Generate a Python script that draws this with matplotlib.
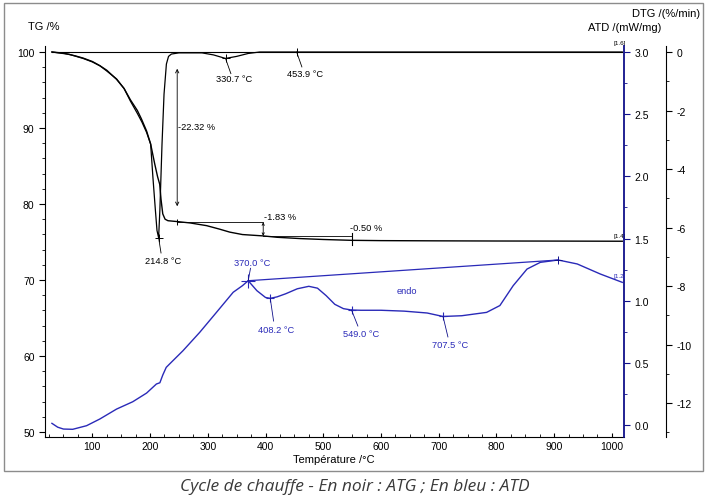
"""TG / DTG / ATD heating cycle - three stacked y scales on one temperature axis."""
import matplotlib
matplotlib.use("Agg")
import matplotlib.pyplot as plt
from matplotlib.patches import Rectangle
from matplotlib.ticker import MultipleLocator

plt.rcParams["font.family"] = ["Liberation Sans", "DejaVu Sans"]
plt.rcParams["axes.unicode_minus"] = False

BLUE = "#2a2ab8"
SPINE_BLUE = "#10108a"

# TG (black) - mass %
tg_t = [30, 50, 70, 84, 100, 113, 125, 142, 155, 166, 178, 185, 194, 201, 208,
        213, 216.7, 219, 222, 226, 231, 248, 270, 298, 320, 338, 360, 396,
        420, 460, 500, 549, 600, 700, 800, 900, 1018]
tg_v = [100, 99.85, 99.5, 99.2, 98.75, 98.2, 97.6, 96.4, 95.2, 93.7, 92.3,
        91.2, 89.6, 87.9, 85.3, 83.6, 82.6, 80.6, 78.7, 78.0, 77.8, 77.68,
        77.5, 77.15, 76.7, 76.3, 75.98, 75.8, 75.62, 75.45, 75.33, 75.22,
        75.18, 75.15, 75.13, 75.12, 75.1]

# DTG (black) - %/min
dtg_t = [30, 60, 84, 100, 113, 125, 142, 155, 166, 178, 186, 194, 201, 205,
         209.2, 212, 214.8, 217, 220.7, 224.2, 228.3, 232, 237, 250, 290, 310,
         330.7, 350, 370, 390, 453.9, 1018]
dtg_v = [0, -0.08, -0.22, -0.34, -0.47, -0.65, -0.92, -1.25, -1.68, -2.1, -2.4,
         -2.75, -3.15, -4.3, -5.4, -6.1, -6.35, -5.4, -3.15, -1.44, -0.41,
         -0.15, -0.07, -0.03, -0.03, -0.1, -0.22, -0.15, -0.05, 0, 0, 0]

# ATD (blue) - mW/mg
atd_t = [30, 40, 50, 66, 90, 113, 142, 170, 194, 211, 217, 222, 228, 234, 257,
         286, 315, 344, 360, 370, 385, 400, 408.2, 420, 435, 455, 475, 490, 505,
         520, 535, 549, 565, 600, 640, 680, 707.5, 740, 783, 806, 829, 853, 876,
         907, 940, 980, 1018]
atd_v = [0.011, -0.02, -0.035, -0.037, -0.008, 0.046, 0.126, 0.185, 0.255,
         0.328, 0.338, 0.40, 0.462, 0.49, 0.596, 0.744, 0.905, 1.067, 1.12,
         1.16, 1.08, 1.025, 1.018, 1.03, 1.055, 1.095, 1.115, 1.10, 1.04, 0.97,
         0.935, 0.924, 0.922, 0.922, 0.915, 0.90, 0.872, 0.878, 0.905, 0.96,
         1.12, 1.254, 1.308, 1.327, 1.295, 1.214, 1.147]

atd_peaks = [370.0, 408.2, 549.0, 707.5]
atd_peak_v = [1.16, 1.018, 0.924, 0.872]
atd_peak_lbl = ["370.0 °C", "408.2 °C", "549.0 °C", "707.5 °C"]
dtg_peaks = [214.8, 330.7, 453.9]
dtg_peak_v = [-6.35, -0.22, 0.0]
dtg_peak_lbl = ["214.8 °C", "330.7 °C", "453.9 °C"]
steps_lbl = ["-22.32 %", "-1.83 %", "-0.50 %"]

W, H = 711, 502
fig = plt.figure(figsize=(W / 100, H / 100), dpi=100)
ax = fig.add_axes([45 / W, 1 - 438 / H, 579 / W, 391 / H])
ax_atd = ax.twinx()
ax_dtg = ax.twinx()

ax.set_xlim(18, 1021)
ax.set_ylim(49.34, 100.79)
ax_atd.set_ylim(-0.099, 3.051)
ax_dtg.set_ylim(-13.16, 0.205)

for a in (ax, ax_atd, ax_dtg):
    a.patch.set_visible(False)
    for s in ("top", "left", "right", "bottom"):
        a.spines[s].set_visible(False)
ax.spines["left"].set_visible(True)
ax.spines["bottom"].set_visible(True)
ax_atd.spines["right"].set_visible(True)
ax_atd.spines["right"].set_color(SPINE_BLUE)
ax_atd.spines["right"].set_linewidth(1.3)
ax_dtg.spines["right"].set_visible(True)
ax_dtg.spines["right"].set_position(("axes", 1.0725))

ax.xaxis.set_major_locator(MultipleLocator(100))
ax.xaxis.set_minor_locator(MultipleLocator(25))
ax.yaxis.set_major_locator(MultipleLocator(10))
ax.yaxis.set_minor_locator(MultipleLocator(2))
ax_atd.yaxis.set_major_locator(MultipleLocator(0.5))
ax_atd.yaxis.set_minor_locator(MultipleLocator(0.25))
ax_atd.yaxis.set_major_formatter(lambda v, p: "%.1f" % v)
ax_dtg.yaxis.set_major_locator(MultipleLocator(2))
ax_dtg.yaxis.set_minor_locator(MultipleLocator(1))
ax.set_xticks([t for t in range(100, 1001, 100)])

ax.tick_params(axis="x", which="both", direction="in", labelsize=7.5, pad=3)
ax.tick_params(axis="x", which="major", length=3)
ax.tick_params(axis="x", which="minor", length=2)
ax.tick_params(axis="y", which="major", length=4, labelsize=7.5)
ax.tick_params(axis="y", which="minor", length=2)
ax_atd.tick_params(axis="y", which="both", colors="black", labelsize=7.5)
ax_atd.tick_params(axis="y", which="major", length=4, color=SPINE_BLUE)
ax_atd.tick_params(axis="y", which="minor", length=2, color=SPINE_BLUE)
ax_dtg.tick_params(axis="y", which="major", length=4, labelsize=7.5)
ax_dtg.tick_params(axis="y", which="minor", length=2)

# curves
ax.plot([30, 1018], [100, 100], color="black", lw=0.8)
ax.plot(tg_t, tg_v, color="black", lw=1.0)
ax_dtg.plot(dtg_t, dtg_v, color="black", lw=0.9)
ax_atd.plot(atd_t, atd_v, color=BLUE, lw=1.0)
ax_atd.plot([atd_peaks[0], 907], [atd_peak_v[0], 1.327], color=BLUE, lw=0.9)

# DTG peak annotations
fs = 6.7
dtg_txt = [(222.8, -7.11), (346, -0.92), (468, -0.72)]
dtg_lead = [(219, -6.87), (340, -0.74), (463, -0.51)]
for t, v, lbl, (tx, ty), (lx, ly) in zip(dtg_peaks, dtg_peak_v, dtg_peak_lbl,
                                         dtg_txt, dtg_lead):
    ax_dtg.plot(t, v, marker="+", ms=6, mew=0.7, color="black")
    ax_dtg.plot([t, lx], [v, ly], color="black", lw=0.6)
    ax_dtg.text(tx, ty, lbl, fontsize=fs, ha="center", va="center")

# ATD peak annotations
atd_txt = [(376.4, 1.303), (418, 0.771), (565, 0.731), (720, 0.65)]
atd_lead = [(374, 1.26), (414, 0.835), (560, 0.795), (716, 0.707)]
for i, (t, v, lbl, (tx, ty), (lx, ly)) in enumerate(
        zip(atd_peaks, atd_peak_v, atd_peak_lbl, atd_txt, atd_lead)):
    ax_atd.plot(t, v, marker="+", ms=10 if i == 0 else 6, mew=0.8, color=BLUE)
    ax_atd.plot([t, lx], [v, ly], color=SPINE_BLUE, lw=0.6)
    ax_atd.text(tx, ty, lbl, fontsize=fs, ha="center", va="center", color=BLUE)
ax_atd.plot(907, 1.327, marker="+", ms=6, mew=0.7, color=SPINE_BLUE)
ax_atd.text(644.5, 1.085, "endo", fontsize=fs, ha="center", va="center", color=BLUE)

# TG mass-loss steps
ax.annotate("", xy=(247, 79.7), xytext=(247, 97.8),
            arrowprops=dict(arrowstyle="<->", lw=0.6, color="black",
                            shrinkA=0, shrinkB=0, mutation_scale=6))
ax.plot(247, 77.68, marker="|", ms=5, mew=0.7, color="black")
ax.text(248, 90.26, steps_lbl[0], fontsize=fs, ha="left", va="center")
ax.plot([247, 396], [77.68, 77.68], color="black", lw=0.6)
ax.annotate("", xy=(396, 75.8), xytext=(396, 77.6),
            arrowprops=dict(arrowstyle="<->", lw=0.6, color="black",
                            shrinkA=0, shrinkB=0, mutation_scale=4))
ax.text(397, 78.3, steps_lbl[1], fontsize=fs, ha="left", va="center")
ax.plot([396, 549], [75.8, 75.8], color="black", lw=0.6)
ax.plot([549, 549], [74.6, 76.2], color="black", lw=0.8)
ax.text(546, 76.97, steps_lbl[2], fontsize=fs, ha="left", va="center")

# curve ids at the right end
ax.text(1013, 100.9, "[1.6]", fontsize=4.5, ha="center", va="bottom")
ax.text(1013, 75.5, "[1.4]", fontsize=4.5, ha="center", va="bottom")
ax_atd.text(1013, 1.18, "[1.2]", fontsize=4.5, ha="center", va="bottom", color=BLUE)

# axis titles
fig.text(28 / W, 1 - 27 / H, "TG /%", fontsize=8, ha="left", va="center")
fig.text(700 / W, 1 - 14 / H, "DTG /(%/min)", fontsize=8, ha="right", va="center")
fig.text(661 / W, 1 - 28 / H, "ATD /(mW/mg)", fontsize=8, ha="right", va="center")
fig.text(334 / W, 1 - 460 / H, "Température /°C", fontsize=8, ha="center", va="center")

# frame and caption
fig.patches.append(Rectangle((4 / W, 1 - 472 / H), 699 / W, 468 / H,
                             transform=fig.transFigure, fill=False,
                             edgecolor="#8c8c8c", lw=1.0))
fig.text(355 / W, 1 - 487 / H, "Cycle de chauffe - En noir : ATG ; En bleu : ATD",
         fontsize=12.5, style="italic", color="#3a3a3a", ha="center", va="center",
         family=["Open Sans", "DejaVu Sans"])

fig.savefig("out.png", dpi=100)
plt.close(fig)
